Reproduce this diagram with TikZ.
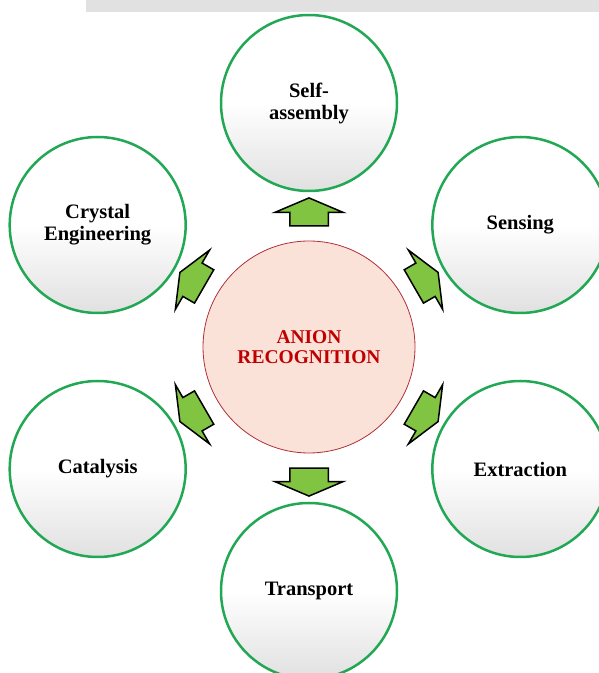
\documentclass[tikz,border=0pt]{standalone}
\usepackage{fontspec}
\setmainfont{Liberation Serif}
\usetikzlibrary{shapes.arrows}
\definecolor{ringgreen}{RGB}{34,168,84}
\definecolor{arrowgreen}{RGB}{128,196,66}
\definecolor{hubfill}{RGB}{250,226,216}
\definecolor{hubline}{RGB}{176,48,58}
\definecolor{hubtext}{RGB}{192,0,0}
\definecolor{barfill}{RGB}{225,225,225}
\tikzset{hub/.style = {circle, draw=hubline, line width=0.8pt, fill=hubfill,
                       minimum size=212pt, inner sep=0pt, text=hubtext, align=center,
                       font=\fontsize{19.5}{20}\selectfont\bfseries}}
\tikzset{leaf/.style = {circle, draw=ringgreen, line width=2.5pt,
                        top color=white, bottom color=black!12, middle color=white,
                        minimum size=176pt, inner sep=0pt, align=center,
                        font=\fontsize{20.5}{22}\selectfont\bfseries}}
\tikzset{fatarrow/.style = {single arrow, draw=black, line width=1.5pt, fill=arrowgreen,
                            minimum height=28pt, inner xsep=0pt, inner ysep=18.5pt,
                            single arrow head extend=15pt, single arrow tip angle=134}}

\begin{document}
\begin{tikzpicture}[x=1pt,y=1pt]
		\useasboundingbox (0,0) rectangle (599,673);
		\fill[barfill] (86,661) rectangle (599,673);
		\node[hub] (core) at (309,326) {ANION\\RECOGNITION};
		% outer ring
		\node[leaf] (self) at ([shift={(90:244pt)}]core) {Self-\\assembly};
		\node[leaf] (sens) at ([shift={(30:244pt)}]core) {Sensing};
		\node[leaf] (extr) at ([shift={(-30:244pt)}]core) {Extraction};
		\node[leaf] (trans) at ([shift={(-90:244pt)}]core) {Transport};
		\node[leaf] (cata) at ([shift={(-150:244pt)}]core) {Catalysis};
		\node[leaf] (cryst) at ([shift={(150:244pt)}]core) {Crystal\\Engineering};
		% block arrows
		\node[fatarrow, rotate=90] (a1) at ([shift={(90:131pt)}]core) {};
		\node[fatarrow, rotate=30] (a2) at ([shift={(30:131pt)}]core) {};
		\node[fatarrow, rotate=-30] (a3) at ([shift={(-30:131pt)}]core) {};
		\node[fatarrow, rotate=-90] (a4) at ([shift={(-90:131pt)}]core) {};
		\node[fatarrow, rotate=-150] (a5) at ([shift={(-150:131pt)}]core) {};
		\node[fatarrow, rotate=150] (a6) at ([shift={(150:131pt)}]core) {};
	\end{tikzpicture}
\end{document}
